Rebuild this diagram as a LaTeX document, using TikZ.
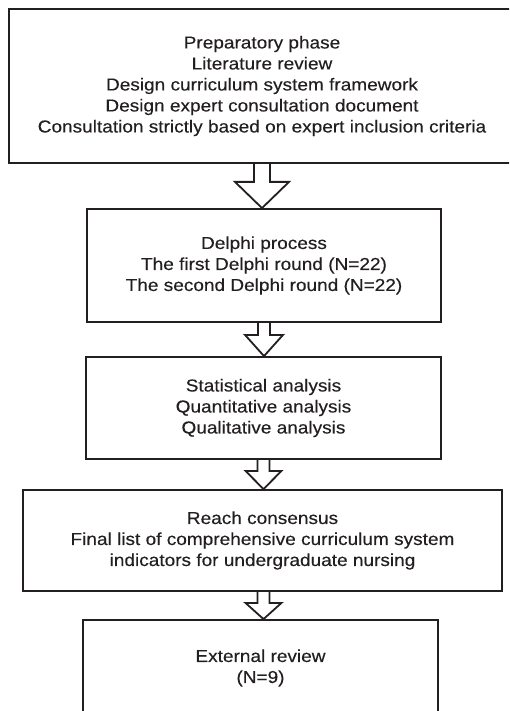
\documentclass[tikz,border=0pt]{standalone}
\usepackage{fontspec}
\setmainfont[FakeStretch=1.1,FakeBold=0.3]{Liberation Sans}
\usetikzlibrary{calc}
\definecolor{ink}{HTML}{231F20}
\tikzset{
  box/.style={draw=ink, line width=1.8pt, text=ink, rectangle, inner sep=0pt,
    align=center, font=\fontsize{17.3}{21}\selectfont},
  arrowline/.style={draw=ink, line width=1.8pt, line join=miter}
}
\newcommand\flowarrow[6]{% from, to, centre x, shaft half width, shaft length, head half width
  \draw[arrowline] let \p1=(#1.south), \p2=(#2.north) in
    (#3pt-#4pt,\y1) -- (#3pt-#4pt,\y1-#5pt) -- (#3pt-#6pt,\y1-#5pt)
    -- (#3pt,\y2) -- (#3pt+#6pt,\y1-#5pt) -- (#3pt+#4pt,\y1-#5pt) -- (#3pt+#4pt,\y1);
}
\begin{document}
\begin{tikzpicture}[x=1pt,y=-1pt]
  \useasboundingbox (0,0) rectangle (509,711);
  \clip (0,0) rectangle (509,711);
  \node[box, minimum width=506pt, minimum height=154pt] (b1) at (262,86)
    {Preparatory phase\\Literature review\\Design curriculum system framework\\Design expert consultation document\\Consultation strictly based on expert inclusion criteria};
  \node[box, minimum width=354pt, minimum height=113pt] (b2) at (264,265.5)
    {Delphi process\\The first Delphi round (N=22)\\The second Delphi round (N=22)};
  \node[box, minimum width=355pt, minimum height=102pt] (b3) at (263.5,408)
    {Statistical analysis\\Quantitative analysis\\Qualitative analysis};
  \node[box, minimum width=479pt, minimum height=101pt] (b4) at (262.5,540.5)
    {Reach consensus\\Final list of comprehensive curriculum system\\indicators for undergraduate nursing};
  \node[box, minimum width=355pt, minimum height=96pt] (b5) at (260.5,668)
    {External review\\(N=9)};
  \flowarrow{b1}{b2}{262}{8}{18}{27}
  \flowarrow{b2}{b3}{264}{6}{12}{19}
  \flowarrow{b3}{b4}{263.5}{6}{11}{18}
  \flowarrow{b4}{b5}{263.5}{6}{11}{18}
\end{tikzpicture}
\end{document}
